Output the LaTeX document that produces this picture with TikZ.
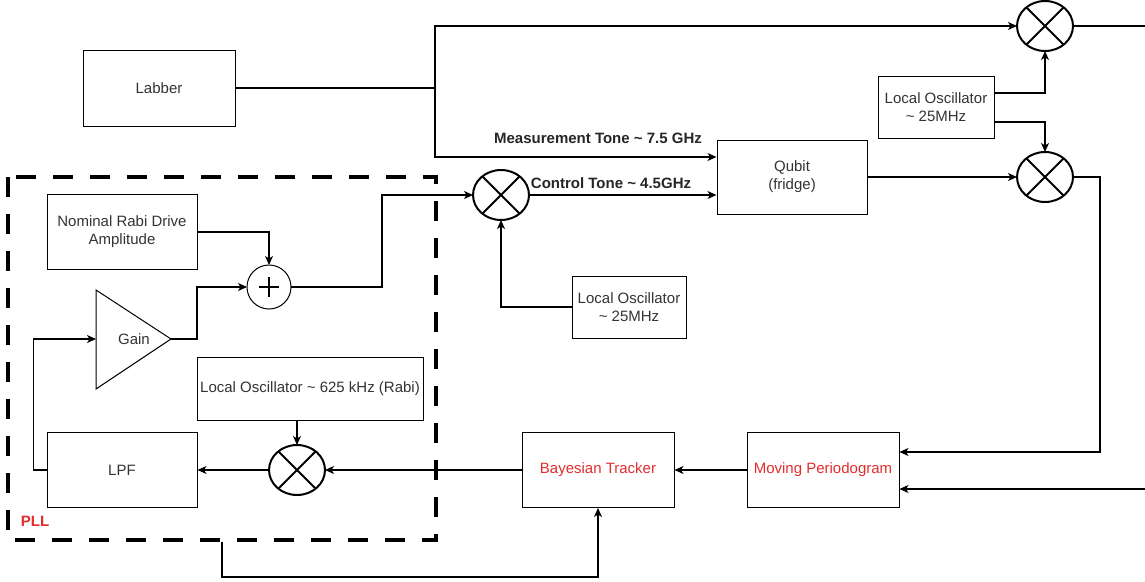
\documentclass[tikz,border=0pt]{standalone}
\usepackage{fontspec}
\setmainfont{Liberation Sans}
\usetikzlibrary{shapes.geometric,arrows.meta}
\definecolor{txtgray}{RGB}{51,51,51}
\definecolor{pllred}{RGB}{226,45,45}

\begin{document}
\begin{tikzpicture}[x=1pt,y=-1pt, font=\fontsize{15}{18}\selectfont,
  block/.style={draw, line width=1pt, text=txtgray, align=center, inner sep=2pt},
  mixer/.style={draw, ellipse, line width=2pt, minimum width=56pt, minimum height=50pt, inner sep=0pt, outer sep=0pt},
  wire/.style={line width=1.2pt},
  arr/.style={wire, -{Stealth[length=9pt,width=8pt,inset=2.5pt]}},
  tone/.style={font=\fontsize{15}{18}\selectfont\bfseries, text=black!85}]
  \useasboundingbox (0,0) rectangle (1145,581);

  % Blöcke
  \node[block, minimum width=152pt, minimum height=76pt] (labber) at (159,88) {Labber};
  \node[block, minimum width=116pt, minimum height=62pt] (loRx) at (936,107) {Local Oscillator\\\textasciitilde{} 25MHz};
  \node[block, minimum width=150pt, minimum height=74pt] (qubit) at (792,177) {Qubit\\(fridge)};
  \node[block, minimum width=114pt, minimum height=62pt] (loCtl) at (629,307) {Local Oscillator\\\textasciitilde{} 25MHz};
  \node[block, minimum width=150pt, minimum height=75pt] (nominal) at (122,232) {Nominal Rabi Drive\\Amplitude};
  \node[block, minimum width=226pt, minimum height=63pt] (loPll) at (310,389) {Local Oscillator \textasciitilde{} 625 kHz (Rabi)};
  \node[block, minimum width=150pt, minimum height=75pt] (lpf) at (122,470) {LPF};
  \node[block, text=pllred, minimum width=152pt, minimum height=75pt] (bt) at (598,470) {Bayesian Tracker};
  \node[block, text=pllred, minimum width=152pt, minimum height=75pt] (mp) at (823,470) {Moving Periodogram};

  % Mischer
  \node[mixer] (mixTop) at (1045,26) {};
  \node[mixer] (mixRx) at (1045,177) {};
  \node[mixer] (mixCtl) at (501,195) {};
  \node[mixer] (mixPll) at (297,470) {};
  \foreach \m in {mixTop,mixRx,mixCtl,mixPll}
    \draw[line width=2pt] (\m.45) -- (\m.-135) (\m.135) -- (\m.-45);

  % Summierer
  \node[draw, circle, line width=1pt, minimum size=44pt, inner sep=0pt, outer sep=0pt] (plus) at (269,287) {};
  \draw[line width=2.2pt] ([xshift=-10pt]plus.center) -- ([xshift=10pt]plus.center)
    ([yshift=-10pt]plus.center) -- ([yshift=10pt]plus.center);

  % Verstärker
  \coordinate (gainIn) at (96,339);
  \coordinate (gainOut) at (171,339);
  \draw[line width=1pt] (96,290) -- (gainOut) -- (96,389) -- cycle;
  \node[text=txtgray] (gain) at (134,339) {Gain};

  % PLL-Rahmen
  \draw[line width=4.5pt, dash pattern=on 20pt off 17pt] (8,177) rectangle (436,540);
  \node[text=pllred, font=\fontsize{15}{18}\selectfont\bfseries] (pll) at (35,521) {PLL};

  % Verbindungen
  \coordinate (split) at (435,88);
  \coordinate (txOut) at (1145,26);
  \coordinate (rxIn) at (1145,489);
  \coordinate (pllOut) at (222,542);
  \draw[wire] (labber.east) -- (split);
  \draw[arr] (split) |- (mixTop.west);
  \draw[wire] (mixTop.east) -- (txOut);
  \draw[arr] (split) |- ([yshift=20pt]qubit.west);
  \draw[arr] (mixCtl.east) -- (mixCtl.east -| qubit.west);
  \draw[arr] ([yshift=14pt]loRx.east) -| (mixTop.south);
  \draw[arr] ([yshift=-15pt]loRx.east) -| (mixRx.north);
  \draw[arr] (qubit.east) -- (mixRx.west);
  \draw[arr] (mixRx.east) -- ++(27,0) |- ([yshift=18pt]mp.east);
  \draw[arr] (rxIn) -- (rxIn -| mp.east);
  \draw[arr] (mp.west) -- (bt.east);
  \draw[arr] (bt.west) -- (mixPll.east);
  \draw[arr] (loPll.south -| mixPll.north) -- (mixPll.north);
  \draw[arr] (mixPll.west) -- (lpf.east);
  \draw[arr] (lpf.west) -- ++(-13,0) |- (gainIn);
  \draw[arr] (gainOut) -- ++(26,0) |- (plus.west);
  \draw[arr] (nominal.east) -| (plus.north);
  \draw[arr] (plus.east) -- ++(91,0) |- (mixCtl.west);
  \draw[arr] (loCtl.west) -| (mixCtl.south);
  \draw[arr] (pllOut) -- ++(0,35) -| (bt.south);

  % Beschriftungen
  \node[tone] (measTone) at (598,138) {Measurement Tone \textasciitilde{} 7.5 GHz};
  \node[tone] (ctlTone) at (611,183) {Control Tone \textasciitilde{} 4.5GHz};
\end{tikzpicture}
\end{document}
